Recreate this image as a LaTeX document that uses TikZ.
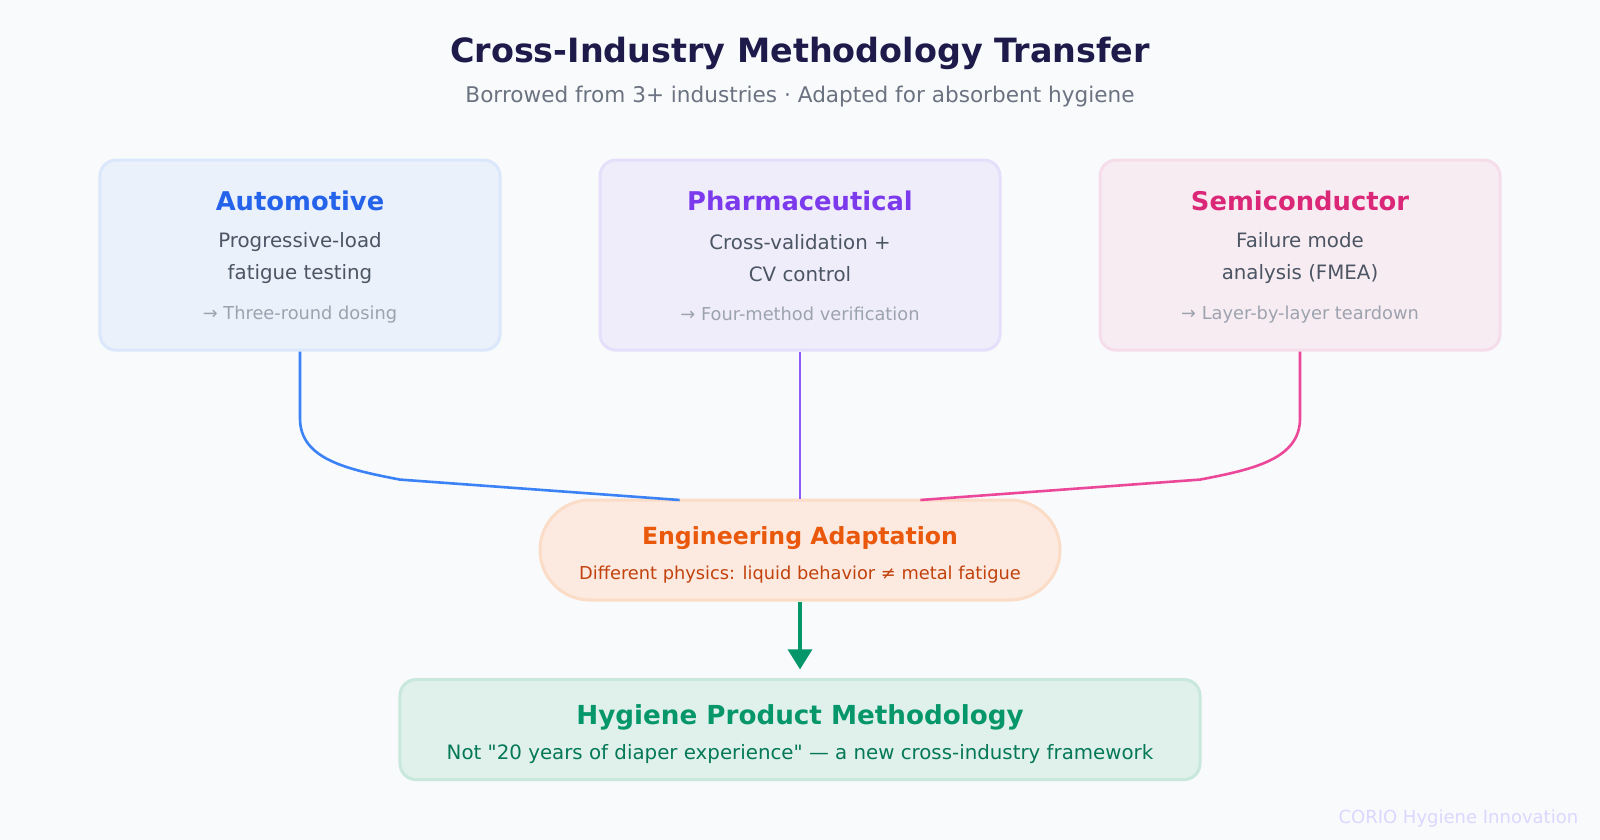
\documentclass[tikz,border=0pt]{standalone}
\usepackage{fontspec}
\setmainfont{DejaVu Sans}[Ligatures=TeXReset]
\usetikzlibrary{arrows.meta}
\definecolor{bg}{HTML}{F8FAFC}
\definecolor{ttl}{HTML}{1E1B4B}
\definecolor{sub}{HTML}{6B7280}
\definecolor{body}{HTML}{4B5563}
\definecolor{muted}{HTML}{9CA3AF}
\definecolor{blueL}{HTML}{3B82F6}\definecolor{blueT}{HTML}{2563EB}
\definecolor{blueF}{HTML}{EAF1FB}\definecolor{blueB}{HTML}{DBE7FB}
\definecolor{purL}{HTML}{8B5CF6}\definecolor{purT}{HTML}{7C3AED}
\definecolor{purF}{HTML}{F0EDFB}\definecolor{purB}{HTML}{E6DFFB}
\definecolor{pinL}{HTML}{EC4899}\definecolor{pinT}{HTML}{DB2777}
\definecolor{pinF}{HTML}{F8ECF3}\definecolor{pinB}{HTML}{F6DDEA}
\definecolor{orT}{HTML}{EA580C}\definecolor{orS}{HTML}{C2410C}
\definecolor{orF}{HTML}{FCEAE0}\definecolor{orB}{HTML}{FBDCC6}
\definecolor{grL}{HTML}{059669}\definecolor{grT}{HTML}{047857}
\definecolor{grF}{HTML}{E0F1EB}\definecolor{grB}{HTML}{C8E8DC}
\definecolor{wm}{HTML}{DDD6FE}
\tikzset{
 box/.style={draw, line width=1.5pt, rounded corners=8pt, minimum width=200pt, minimum height=95pt},
 lbl/.style={align=center, inner sep=0},
 conn/.style={line width=1.3pt},
}
\begin{document}
\begin{tikzpicture}[x=0.5102pt,y=-0.5102pt]
\fill[bg] (0,0) rectangle (1568,823);
\useasboundingbox (0,0) rectangle (1568,823);
\node[lbl,text=ttl,font=\fontsize{16.7}{20}\selectfont\bfseries] (title) at (784,52) {Cross-Industry Methodology Transfer};
\node[lbl,text=sub,font=\fontsize{10.8}{13}\selectfont] (subt) at (784,95) {Borrowed from 3+ industries · Adapted for absorbent hygiene};
% boxes
\node[box,fill=blueF,draw=blueB] (auto) at (294,250) {};
\node[box,fill=purF,draw=purB] (pharma) at (784,250) {};
\node[box,fill=pinF,draw=pinB] (semi) at (1274,250) {};
\foreach \n/\x/\c/\t/\a/\b/\g in {a/294/blueT/Automotive/Progressive-load/fatigue testing/Three-round dosing,
 p/784/purT/Pharmaceutical/Cross-validation +/CV control/Four-method verification,
 s/1274/pinT/Semiconductor/Failure mode/analysis (FMEA)/Layer-by-layer teardown}{
 \node[lbl,text=\c,font=\fontsize{12.9}{15}\selectfont\bfseries] (\n t) at (\x,197) {\t};
 \node[lbl,text=body,font=\fontsize{9.9}{15.8}\selectfont] (\n b) at (\x,253) {\a\\\b};
 \node[lbl,text=muted,font=\fontsize{8.9}{10}\selectfont] (\n g) at (\x,308) {→ \g};
}
\node[draw=orB,fill=orF,line width=1.5pt,rounded corners=25pt,minimum width=260pt,minimum height=50pt] (eng) at (784,539) {};
\node[lbl,text=orT,font=\fontsize{11.8}{14}\selectfont\bfseries] (engt) at (784,527) {Engineering Adaptation};
\node[lbl,text=orS,font=\fontsize{8.9}{10}\selectfont] (engs) at (784,563) {Different physics: liquid behavior ≠ metal fatigue};
\node[box,fill=grF,draw=grB,minimum width=400pt,minimum height=50pt] (hyg) at (784,715) {};
\node[lbl,text=grL,font=\fontsize{13.1}{15}\selectfont\bfseries] (hygt) at (784,703) {Hygiene Product Methodology};
\node[lbl,text=grT,font=\fontsize{9.9}{11}\selectfont] (hygs) at (784,739) {Not "20 years of diaper experience" — a new cross-industry framework};
\node[lbl,text=wm,font=\fontsize{9}{10}\selectfont,anchor=east] (wmk) at (1547,802) {CORIO Hygiene Innovation};
% connectors
\coordinate (eL) at (666,490);
\coordinate (eR) at (902,490);
\draw[conn,blueL] (auto.south) -- (294,410) .. controls (294,450) and (340,460) .. (392,470) -- (eL);
\draw[conn,purL] (pharma.south) -- (eng.north);
\draw[conn,pinL] (semi.south) -- (1274,410) .. controls (1274,450) and (1228,460) .. (1176,470) -- (eR);
\draw[grL,line width=1.6pt,-{Triangle[length=10pt,width=12pt]}] (eng.south) -- (hyg.north |- 0,656);
\end{tikzpicture}
\end{document}
